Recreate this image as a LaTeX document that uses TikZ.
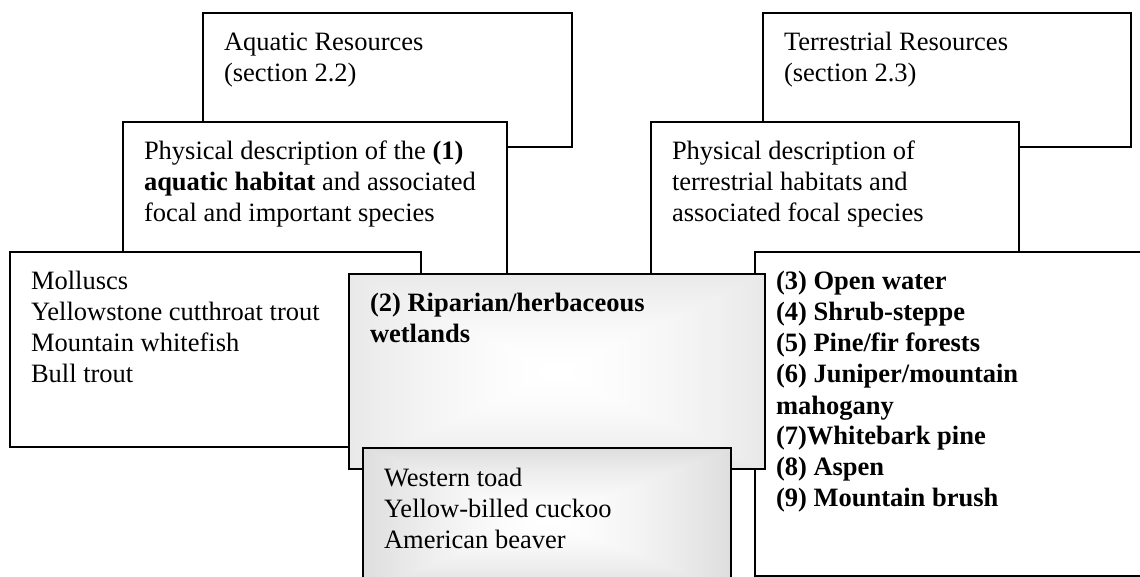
\documentclass[tikz,border=0pt]{standalone}
\usepackage{fontspec}
\setmainfont{Liberation Serif}

% grey rim fading to white in the middle
\pgfdeclarefunctionalshading{ripglow}{\pgfpoint{-50bp}{-50bp}}{\pgfpoint{50bp}{50bp}}{}{%
  abs exch abs 2 copy lt {exch} if pop 50 div dup sqrt mul 0.25 mul 1 exch sub dup dup}
\pgfdeclarefunctionalshading{toadglow}{\pgfpoint{-50bp}{-50bp}}{\pgfpoint{50bp}{50bp}}{}{%
  abs exch abs 2 copy lt {exch} if pop 50 div dup sqrt mul 0.37 mul 1 exch sub dup dup}

\newcommand{\boxtext}[3]{\parbox[t][#2][t]{#1}{\vspace*{16.3pt}\strut#3}}

\tikzset{
  boxline/.style={draw, line width=2pt, anchor=north west, inner xsep=21pt, inner ysep=0pt},
  plainbox/.style={boxline, fill=white},
  ripbox/.style={boxline, shade, shading=ripglow},
  toadbox/.style={boxline, shade, shading=toadglow},
}

\begin{document}
\begin{tikzpicture}[x=1pt, y=-1pt, font=\fontsize{26.5}{31}\selectfont]
  \useasboundingbox (0,0) rectangle (1140,577);
  \clip (0,0) rectangle (1140,577);

  \node[plainbox] (aquatic) at (202,12) {\boxtext{327pt}{134pt}{Aquatic Resources\\(section 2.2)}};
  \node[plainbox] (terrestrial) at (762,12) {\boxtext{326pt}{134pt}{Terrestrial Resources\\(section 2.3)}};

  \node[plainbox] (physaq) at (122,121) {\boxtext{342pt}{200pt}{Physical description of the \textbf{(1)}\\\textbf{aquatic habitat} and associated\\focal and important species}};
  \node[plainbox] (physterr) at (650,121) {\boxtext{326pt}{200pt}{Physical description of\\terrestrial habitats and\\associated focal species}};

  \node[plainbox] (molluscs) at (9,251) {\boxtext{369pt}{195pt}{Molluscs\\Yellowstone cutthroat trout\\Mountain whitefish\\Bull trout}};
  \node[plainbox] (habitats) at (754,251) {\boxtext{364pt}{324pt}{\bfseries (3) Open water\\(4) Shrub-steppe\\(5) Pine/fir forests\\(6) Juniper/mountain\\mahogany\\(7)Whitebark pine\\(8) Aspen\\(9) Mountain brush}};

  \node[ripbox] (riparian) at (348,273) {\boxtext{374pt}{195pt}{\bfseries (2) Riparian/herbaceous\\wetlands}};
  \node[toadbox] (toad) at (362,447) {\boxtext{326pt}{143pt}{Western toad\\Yellow-billed cuckoo\\American beaver}};
\end{tikzpicture}
\end{document}
